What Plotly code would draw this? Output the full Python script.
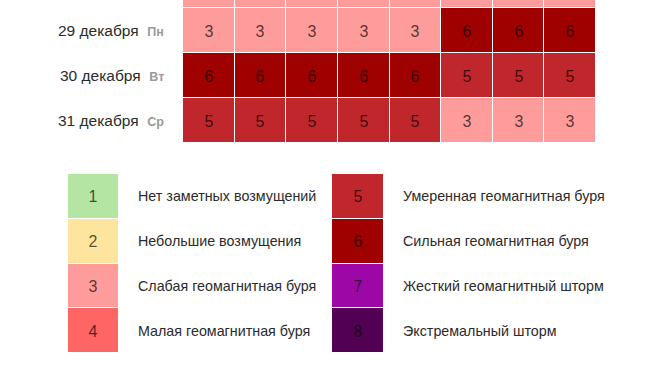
import plotly.graph_objects as go

# ---- data ----
dates = ["28 декабря", "29 декабря", "30 декабря", "31 декабря"]
weekdays = ["Вс", "Пн", "Вт", "Ср"]
hours = ["00-03", "03-06", "06-09", "09-12", "12-15", "15-18", "18-21", "21-00"]
kp_values = [
    [3, 3, 3, 3, 3, 3, 3, 3],
    [3, 3, 3, 3, 3, 6, 6, 6],
    [6, 6, 6, 6, 6, 5, 5, 5],
    [5, 5, 5, 5, 5, 3, 3, 3],
]
levels_left = [1, 2, 3, 4]
levels_right = [5, 6, 7, 8]
labels_left = ["Нет заметных возмущений", "Небольшие возмущения",
               "Слабая геомагнитная буря", "Малая геомагнитная буря"]
labels_right = ["Умеренная геомагнитная буря", "Сильная геомагнитная буря",
                "Жесткий геомагнитный шторм", "Экстремальный шторм"]
level_colors = ["#b4e5a2", "#fde59e", "#fe9b9b", "#fe6565",
                "#c0272c", "#9f0000", "#9c07a6", "#520054"]

# ---- discrete colorscale ----
n = len(level_colors)
cs = []
for i, c in enumerate(level_colors):
    cs.append([i / n, c])
    cs.append([(i + 1) / n, c])

W, H = 655, 371
def px_x(v): return v / W
def px_y(v): return 1 - v / H

FONT = "Liberation Sans, Arial, sans-serif"
txtfont = dict(family=FONT, size=16, color="rgba(0,0,0,0.68)")

fig = go.Figure()

# main grid
fig.add_trace(go.Heatmap(
    z=kp_values, x=list(range(len(hours))), y=list(range(len(dates))),
    colorscale=cs, zmin=0.5, zmax=8.5, showscale=False,
    xgap=1, ygap=1, text=kp_values, texttemplate="%{text}", textfont=txtfont,
    hoverinfo="skip", xaxis="x", yaxis="y"))

# legend columns
fig.add_trace(go.Heatmap(
    z=[[v] for v in levels_left], x=[0], y=list(range(4)),
    colorscale=cs, zmin=0.5, zmax=8.5, showscale=False, ygap=1,
    text=[[v] for v in levels_left], texttemplate="%{text}", textfont=txtfont,
    hoverinfo="skip", xaxis="x2", yaxis="y2"))
fig.add_trace(go.Heatmap(
    z=[[v] for v in levels_right], x=[0], y=list(range(4)),
    colorscale=cs, zmin=0.5, zmax=8.5, showscale=False, ygap=1,
    text=[[v] for v in levels_right], texttemplate="%{text}", textfont=txtfont,
    hoverinfo="skip", xaxis="x3", yaxis="y3"))

hidden = dict(showgrid=False, zeroline=False, showticklabels=False, ticks="",
              showline=False, fixedrange=True)

row_px = 45.0
vis_rows = 143 / row_px
fig.update_layout(
    width=W, height=H, margin=dict(l=0, r=0, t=0, b=0),
    paper_bgcolor="white", plot_bgcolor="white",
    xaxis=dict(domain=[px_x(183), px_x(596)], range=[-0.5, 7.5], **hidden),
    yaxis=dict(domain=[px_y(143), 1], range=[3.5, 3.5 - vis_rows], **hidden),
    xaxis2=dict(domain=[px_x(68), px_x(118)], range=[-0.5, 0.5], anchor="y2", **hidden),
    yaxis2=dict(domain=[px_y(353), px_y(174)], range=[3.5, -0.5], anchor="x2", **hidden),
    xaxis3=dict(domain=[px_x(332), px_x(383)], range=[-0.5, 0.5], anchor="y3", **hidden),
    yaxis3=dict(domain=[px_y(353), px_y(174)], range=[3.5, -0.5], anchor="x3", **hidden),
    font=dict(family=FONT, color="#333"),
)

ann = []
for i, (d, wd) in enumerate(zip(dates, weekdays)):
    ann.append(dict(
        x=px_x(166), xref="paper", y=i, yref="y", xanchor="right", yanchor="middle",
        showarrow=False,
        text=f"{d}  <span style='color:#9a9a9a;font-size:12.5px'><b>{wd}</b></span>",
        font=dict(family=FONT, size=15.5, color="#2b2b2b")))
for i, t in enumerate(labels_left):
    ann.append(dict(x=px_x(136), xref="paper", y=i, yref="y2", xanchor="left",
                    yanchor="middle", showarrow=False, text=t,
                    font=dict(family=FONT, size=14.3, color="#2b2b2b")))
for i, t in enumerate(labels_right):
    ann.append(dict(x=px_x(401), xref="paper", y=i, yref="y3", xanchor="left",
                    yanchor="middle", showarrow=False, text=t,
                    font=dict(family=FONT, size=14.3, color="#2b2b2b")))
fig.update_layout(annotations=ann)

fig.write_html("out.html")
